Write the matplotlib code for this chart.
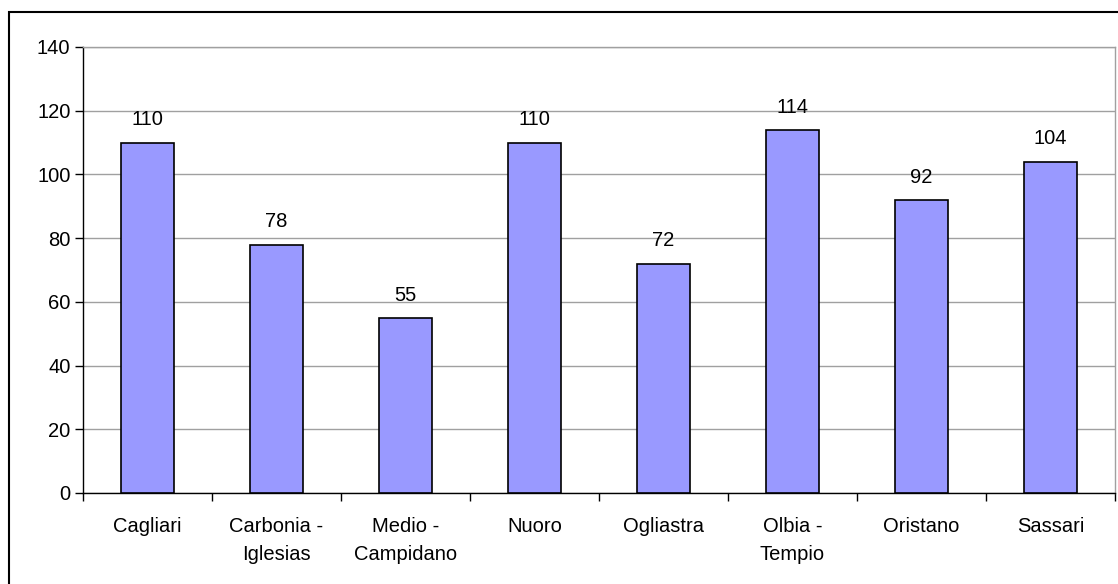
import matplotlib.pyplot as plt
from matplotlib.patches import Rectangle

categories = ["Cagliari", "Carbonia -\nIglesias", "Medio -\nCampidano", "Nuoro",
              "Ogliastra", "Olbia -\nTempio", "Oristano", "Sassari"]
values = [110, 78, 55, 110, 72, 114, 92, 104]
y_ticks = [0, 20, 40, 60, 80, 100, 120, 140]

plt.rcParams["font.family"] = ["Liberation Sans", "DejaVu Sans"]

fig = plt.figure(figsize=(11.18, 5.84), dpi=100)
fig.patch.set_facecolor("white")
W, H = 1118, 584

# outer chart border
fig.patches.append(Rectangle((9 / W, -0.05), 1.2, 1 - 12 / H + 0.05,
                             transform=fig.transFigure, fill=False,
                             edgecolor="black", linewidth=1.5))

ax = fig.add_axes([83 / W, 1 - 493 / H, (1115 - 83) / W, (493 - 47) / H])
x = list(range(len(categories)))
bars = ax.bar(x, values, width=0.41, color="#9999FF", edgecolor="black",
              linewidth=1.2, zorder=3)

for xi, v in zip(x, values):
    ax.annotate(str(v), (xi, v), xytext=(0, 9.5), textcoords="offset points",
                ha="center", va="bottom", fontsize=14.5)

ax.set_xlim(-0.5, len(categories) - 0.5)
ax.set_ylim(0, 140)
ax.set_yticks(y_ticks)
ax.yaxis.grid(True, color="#a0a0a0", linewidth=1.0, zorder=0)
ax.set_axisbelow(True)

ax.set_xticks([i + 0.5 for i in range(-1, len(categories))])
ax.set_xticklabels([])
ax.set_xticks(x, minor=True)
ax.set_xticklabels(categories, minor=True, fontsize=14.5, linespacing=1.6)
ax.tick_params(axis="x", which="minor", length=0, pad=17)
ax.tick_params(axis="x", which="major", length=6, width=1, direction="out")
ax.tick_params(axis="y", length=6, width=1, direction="out", labelsize=14.5, pad=3)

ax.spines["left"].set_color("black")
ax.spines["bottom"].set_color("black")
ax.spines["top"].set_color("#a0a0a0")
ax.spines["right"].set_color("#a0a0a0")
for s in ax.spines.values():
    s.set_linewidth(1.0)

fig.savefig("out.png", dpi=100)
